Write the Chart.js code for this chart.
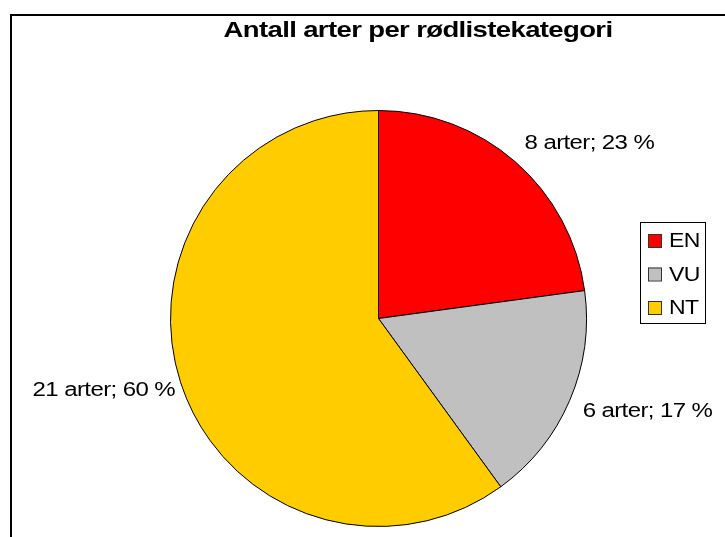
<!DOCTYPE html>
<html>
<head>
<meta charset="utf-8">
<script src="https://cdn.jsdelivr.net/npm/chart.js@4.4.0/dist/chart.umd.min.js"></script>
<style>
    body { margin: 0; background: #ffffff; }
    canvas { display: block; }
</style>
</head>
<body>
<canvas id="pieChart" width="725" height="537"></canvas>
<script>
// Chart data
const categories = ['EN', 'VU', 'NT'];
const speciesCounts = [8, 6, 21];
const percentLabels = ['23 %', '17 %', '60 %'];
const sliceColors = ['#FF0000', '#C0C0C0', '#FFCC00'];
const chartTitle = 'Antall arter per rødlistekategori';

const FONT = '"Liberation Sans", Arial, sans-serif';

// The original text is stretched sideways but tightly spaced
function drawText(ctx, text, x, y, stretch) {
    ctx.save();
    ctx.translate(x, y);
    ctx.scale(stretch, 1);
    ctx.letterSpacing = '-0.5px';
    ctx.fillText(text, 0, 0);
    ctx.restore();
}

// Outer frame, title, slice labels and boxed legend
const decorPlugin = {
    id: 'decor',
    afterDraw(chart) {
        const ctx = chart.ctx;
        ctx.save();

        // Frame round the chart (runs off the right and bottom edges)
        ctx.strokeStyle = '#000000';
        ctx.lineWidth = 2;
        ctx.strokeRect(11, 15, 800, 600);

        // Title
        ctx.fillStyle = '#000000';
        ctx.font = 'bold 22px ' + FONT;
        ctx.textAlign = 'center';
        ctx.textBaseline = 'middle';
        drawText(ctx, chartTitle, 418, 31, 1.25);

        // Slice labels, anchored just outside each slice's mid-angle
        ctx.font = '20px ' + FONT;
        const arcs = chart.getDatasetMeta(0).data;
        arcs.forEach((arc, i) => {
            const mid = (arc.startAngle + arc.endAngle) / 2;
            const rightSide = Math.cos(mid) >= 0;
            const upper = Math.sin(mid) < 0;
            const r = arc.outerRadius + (rightSide ? 14 : 6);
            const x = arc.x + Math.cos(mid) * r;
            const y = arc.y + Math.sin(mid) * r;
            ctx.textAlign = rightSide ? 'left' : 'right';
            ctx.textBaseline = upper ? 'bottom' : 'top';
            drawText(ctx, `${speciesCounts[i]} arter; ${percentLabels[i]}`, x, y - (upper ? -2 : 4), 1.2);
        });

        // Legend box
        ctx.lineWidth = 1;
        ctx.strokeRect(640.5, 222.5, 65, 101);
        ctx.textAlign = 'left';
        ctx.textBaseline = 'middle';
        categories.forEach((cat, i) => {
            const top = 234 + i * 33.5;
            ctx.fillStyle = sliceColors[i];
            ctx.fillRect(648, top, 13, 13);
            ctx.strokeStyle = '#333333';
            ctx.strokeRect(648.5, top + 0.5, 13, 13);
            ctx.fillStyle = '#000000';
            drawText(ctx, cat, 669, top + 7.5, 1.15);
        });

        ctx.restore();
    }
};

const ctx = document.getElementById('pieChart').getContext('2d');
const pieChart = new Chart(ctx, {
    type: 'pie',
    data: {
        labels: categories,
        datasets: [{
            data: speciesCounts,
            backgroundColor: sliceColors,
            borderColor: '#000000',
            borderWidth: 1
        }]
    },
    options: {
        responsive: false,
        animation: false,
        devicePixelRatio: 1,
        layout: {
            padding: { top: 110, bottom: 10, left: 170, right: 138 }
        },
        plugins: {
            legend: { display: false },
            title: { display: false },
            tooltip: { enabled: false }
        }
    },
    plugins: [decorPlugin]
});
</script>
</body>
</html>
